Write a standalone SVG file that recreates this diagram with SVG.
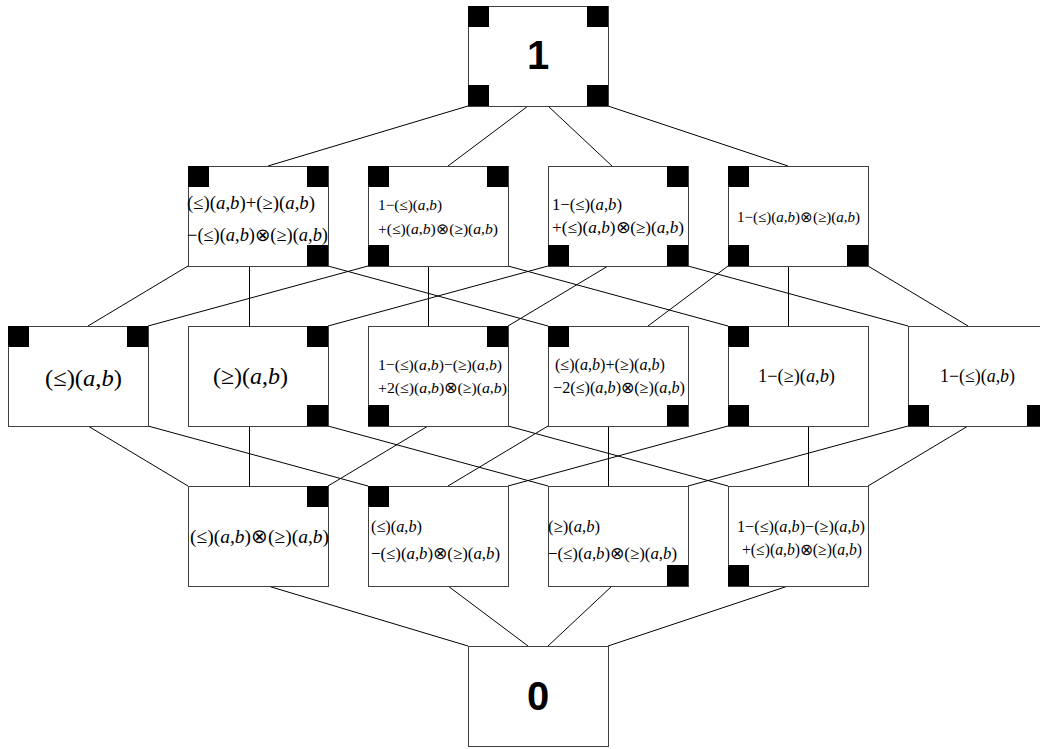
<svg xmlns="http://www.w3.org/2000/svg" width="1040" height="749" viewBox="0 0 1040 749">
<style>
.box{fill:#fff;stroke:#404040;stroke-width:1}
.sq{fill:#000}
.ln{stroke:#000;stroke-width:1;fill:none}
.m{font-family:"Liberation Serif","Times New Roman",serif;font-size:16px;fill:#000}
.i{font-style:italic}
.big{font-family:"Liberation Sans",Arial,sans-serif;font-weight:bold;font-size:40px;fill:#000}
</style>
<rect width="1040" height="749" fill="#fff"/>
<g id="connectors">
<path class="ln" d="M468,106 L268,166 M528,106 L448,166 M548,106 L612,166 M608,106 L788,166"/>
<path class="ln" d="M188,266 L88,326 M249.5,266 V326 M328,266 L548,326 M368,266 L148,326 M428.5,266 V326 M508,266 L728,326 M548,266 L328,326 M608,266 L508,326 M688,266 L908,326 M728,266 L648,326 M788.5,266 V326 M868,266 L968,326"/>
<path class="ln" d="M88,426 L188,486 M148,426 L368,486 M249.5,426 V486 M328,426 L548,486 M428,426 L328,486 M508,426 L728,486 M548,426 L448,486 M608.5,426 V486 M728,426 L508,486 M808.5,426 V486 M908,426 L688,486 M968,426 L868,486"/>
<path class="ln" d="M268,586 L468,646 M448,586 L528,646 M612,586 L548,646 M788,586 L608,646"/>
</g>
<g id="n1">
<rect class="box" x="468.5" y="6.5" width="140" height="100"/>
<rect class="sq" x="468" y="6" width="21" height="21"/><rect class="sq" x="587" y="6" width="21" height="21"/>
<rect class="sq" x="468" y="85" width="21" height="21"/><rect class="sq" x="587" y="85" width="21" height="21"/>
<text class="big" x="538" y="69" text-anchor="middle">1</text>
</g>
<g id="r2a">
<rect class="box" x="188.5" y="166.5" width="140" height="100"/>
<rect class="sq" x="188" y="166" width="21" height="21"/><rect class="sq" x="307" y="166" width="21" height="21"/><rect class="sq" x="307" y="245" width="21" height="21"/>
<text class="m" style="font-size:18px" x="187" y="209" textLength="128" lengthAdjust="spacingAndGlyphs">(≤)(<tspan class="i">a</tspan>,<tspan class="i">b</tspan>)+(≥)(<tspan class="i">a</tspan>,<tspan class="i">b</tspan>)</text>
<text class="m" style="font-size:18px" x="187" y="241" textLength="141" lengthAdjust="spacingAndGlyphs">−(≤)(<tspan class="i">a</tspan>,<tspan class="i">b</tspan>)⊗(≥)(<tspan class="i">a</tspan>,<tspan class="i">b</tspan>)</text>
</g>
<g id="r2b">
<rect class="box" x="368.5" y="166.5" width="140" height="100"/>
<rect class="sq" x="368" y="166" width="21" height="21"/><rect class="sq" x="487" y="166" width="21" height="21"/><rect class="sq" x="368" y="245" width="21" height="21"/>
<text class="m" style="font-size:15px" x="378" y="210" textLength="64" lengthAdjust="spacingAndGlyphs">1−(≤)(<tspan class="i">a</tspan>,<tspan class="i">b</tspan>)</text>
<text class="m" style="font-size:15px" x="378" y="234" textLength="120" lengthAdjust="spacingAndGlyphs">+(≤)(<tspan class="i">a</tspan>,<tspan class="i">b</tspan>)⊗(≥)(<tspan class="i">a</tspan>,<tspan class="i">b</tspan>)</text>
</g>
<g id="r2c">
<rect class="box" x="548.5" y="166.5" width="140" height="100"/>
<rect class="sq" x="667" y="166" width="21" height="21"/><rect class="sq" x="548" y="245" width="21" height="21"/><rect class="sq" x="667" y="245" width="21" height="21"/>
<text class="m" style="font-size:16.5px" x="552" y="210" textLength="70" lengthAdjust="spacingAndGlyphs">1−(≤)(<tspan class="i">a</tspan>,<tspan class="i">b</tspan>)</text>
<text class="m" style="font-size:16.5px" x="552" y="233" textLength="132" lengthAdjust="spacingAndGlyphs">+(≤)(<tspan class="i">a</tspan>,<tspan class="i">b</tspan>)⊗(≥)(<tspan class="i">a</tspan>,<tspan class="i">b</tspan>)</text>
</g>
<g id="r2d">
<rect class="box" x="728.5" y="166.5" width="140" height="100"/>
<rect class="sq" x="728" y="166" width="21" height="21"/><rect class="sq" x="728" y="245" width="21" height="21"/><rect class="sq" x="847" y="245" width="21" height="21"/>
<text class="m" style="font-size:15px" x="737" y="222" textLength="123" lengthAdjust="spacingAndGlyphs">1−(≤)(<tspan class="i">a</tspan>,<tspan class="i">b</tspan>)⊗(≥)(<tspan class="i">a</tspan>,<tspan class="i">b</tspan>)</text>
</g>
<g id="r3a">
<rect class="box" x="8.5" y="326.5" width="140" height="100"/>
<rect class="sq" x="8" y="326" width="21" height="21"/><rect class="sq" x="127" y="326" width="21" height="21"/>
<text class="m" style="font-size:24px" x="45" y="386" textLength="77" lengthAdjust="spacingAndGlyphs">(≤)(<tspan class="i">a</tspan>,<tspan class="i">b</tspan>)</text>
</g>
<g id="r3b">
<rect class="box" x="188.5" y="326.5" width="140" height="100"/>
<rect class="sq" x="307" y="326" width="21" height="21"/><rect class="sq" x="307" y="405" width="21" height="21"/>
<text class="m" style="font-size:24px" x="213" y="384" textLength="75" lengthAdjust="spacingAndGlyphs">(≥)(<tspan class="i">a</tspan>,<tspan class="i">b</tspan>)</text>
</g>
<g id="r3c">
<rect class="box" x="368.5" y="326.5" width="140" height="100"/>
<rect class="sq" x="487" y="326" width="21" height="21"/><rect class="sq" x="368" y="405" width="21" height="21"/>
<text class="m" style="font-size:15.5px" x="378" y="370" textLength="124" lengthAdjust="spacingAndGlyphs">1−(≤)(<tspan class="i">a</tspan>,<tspan class="i">b</tspan>)−(≥)(<tspan class="i">a</tspan>,<tspan class="i">b</tspan>)</text>
<text class="m" style="font-size:15.5px" x="378" y="393" textLength="129" lengthAdjust="spacingAndGlyphs">+2(≤)(<tspan class="i">a</tspan>,<tspan class="i">b</tspan>)⊗(≥)(<tspan class="i">a</tspan>,<tspan class="i">b</tspan>)</text>
</g>
<g id="r3d">
<rect class="box" x="548.5" y="326.5" width="140" height="100"/>
<rect class="sq" x="548" y="326" width="21" height="21"/><rect class="sq" x="667" y="405" width="21" height="21"/>
<text class="m" x="555" y="370" textLength="110" lengthAdjust="spacingAndGlyphs">(≤)(<tspan class="i">a</tspan>,<tspan class="i">b</tspan>)+(≥)(<tspan class="i">a</tspan>,<tspan class="i">b</tspan>)</text>
<text class="m" x="553" y="393" textLength="132" lengthAdjust="spacingAndGlyphs">−2(≤)(<tspan class="i">a</tspan>,<tspan class="i">b</tspan>)⊗(≥)(<tspan class="i">a</tspan>,<tspan class="i">b</tspan>)</text>
</g>
<g id="r3e">
<rect class="box" x="728.5" y="326.5" width="140" height="100"/>
<rect class="sq" x="728" y="326" width="21" height="21"/><rect class="sq" x="728" y="405" width="21" height="21"/>
<text class="m" style="font-size:18px" x="758" y="382" textLength="77" lengthAdjust="spacingAndGlyphs">1−(≥)(<tspan class="i">a</tspan>,<tspan class="i">b</tspan>)</text>
</g>
<g id="r3f">
<rect class="box" x="908.5" y="326.5" width="140" height="100"/>
<rect class="sq" x="908" y="405" width="21" height="21"/><rect class="sq" x="1027" y="405" width="21" height="21"/>
<text class="m" style="font-size:18px" x="940" y="382" textLength="75" lengthAdjust="spacingAndGlyphs">1−(≤)(<tspan class="i">a</tspan>,<tspan class="i">b</tspan>)</text>
</g>
<g id="r4a">
<rect class="box" x="188.5" y="486.5" width="140" height="100"/>
<rect class="sq" x="307" y="486" width="21" height="21"/>
<text class="m" style="font-size:19.5px" x="190" y="543" textLength="139" lengthAdjust="spacingAndGlyphs">(≤)(<tspan class="i">a</tspan>,<tspan class="i">b</tspan>)⊗(≥)(<tspan class="i">a</tspan>,<tspan class="i">b</tspan>)</text>
</g>
<g id="r4b">
<rect class="box" x="368.5" y="486.5" width="140" height="100"/>
<rect class="sq" x="368" y="486" width="21" height="21"/>
<text class="m" style="font-size:16.5px" x="371" y="532" textLength="51" lengthAdjust="spacingAndGlyphs">(≤)(<tspan class="i">a</tspan>,<tspan class="i">b</tspan>)</text>
<text class="m" style="font-size:16.5px" x="371" y="559" textLength="129" lengthAdjust="spacingAndGlyphs">−(≤)(<tspan class="i">a</tspan>,<tspan class="i">b</tspan>)⊗(≥)(<tspan class="i">a</tspan>,<tspan class="i">b</tspan>)</text>
</g>
<g id="r4c">
<rect class="box" x="548.5" y="486.5" width="140" height="100"/>
<rect class="sq" x="667" y="565" width="21" height="21"/>
<text class="m" style="font-size:16.5px" x="548" y="532" textLength="52" lengthAdjust="spacingAndGlyphs">(≥)(<tspan class="i">a</tspan>,<tspan class="i">b</tspan>)</text>
<text class="m" style="font-size:16.5px" x="548" y="559" textLength="129" lengthAdjust="spacingAndGlyphs">−(≤)(<tspan class="i">a</tspan>,<tspan class="i">b</tspan>)⊗(≥)(<tspan class="i">a</tspan>,<tspan class="i">b</tspan>)</text>
</g>
<g id="r4d">
<rect class="box" x="728.5" y="486.5" width="140" height="100"/>
<rect class="sq" x="728" y="565" width="21" height="21"/>
<text class="m" x="737" y="532" textLength="128" lengthAdjust="spacingAndGlyphs">1−(≤)(<tspan class="i">a</tspan>,<tspan class="i">b</tspan>)−(≥)(<tspan class="i">a</tspan>,<tspan class="i">b</tspan>)</text>
<text class="m" x="742" y="555" textLength="120" lengthAdjust="spacingAndGlyphs">+(≤)(<tspan class="i">a</tspan>,<tspan class="i">b</tspan>)⊗(≥)(<tspan class="i">a</tspan>,<tspan class="i">b</tspan>)</text>
</g>
<g id="n0">
<rect class="box" x="468.5" y="646.5" width="140" height="100"/>
<text class="big" x="538" y="710" text-anchor="middle">0</text>
</g>
</svg>
